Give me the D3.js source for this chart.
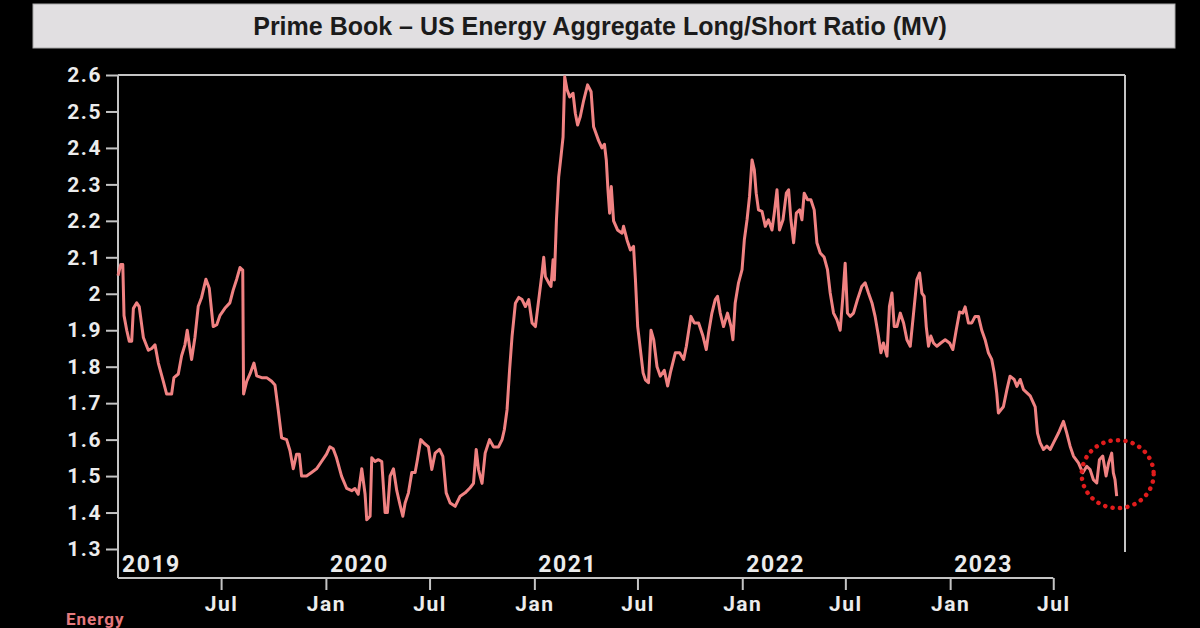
<!DOCTYPE html>
<html>
<head>
<meta charset="utf-8">
<script src="https://cdn.jsdelivr.net/npm/d3@7"></script>
<style>
  html, body { margin: 0; padding: 0; background: #000; overflow: hidden; }
</style>
</head>
<body>
<div id="chart"></div>
<script>
// Datos: [año decimal, ratio long/short]
const energySeries = [
  [2019.000, 2.05], [2019.013, 2.08], [2019.023, 2.08], [2019.029, 1.94], [2019.042, 1.90],
  [2019.054, 1.87], [2019.066, 1.87], [2019.074, 1.96], [2019.090, 1.975], [2019.102, 1.965],
  [2019.122, 1.88], [2019.146, 1.845], [2019.162, 1.85], [2019.178, 1.86], [2019.194, 1.81],
  [2019.218, 1.76], [2019.234, 1.725], [2019.258, 1.725], [2019.269, 1.77], [2019.290, 1.78],
  [2019.306, 1.83], [2019.322, 1.86], [2019.333, 1.90], [2019.343, 1.86], [2019.354, 1.82],
  [2019.370, 1.88], [2019.386, 1.966], [2019.402, 1.99], [2019.423, 2.04], [2019.439, 2.015],
  [2019.458, 1.91], [2019.475, 1.915], [2019.490, 1.94], [2019.514, 1.96], [2019.538, 1.975],
  [2019.554, 2.01], [2019.571, 2.04], [2019.587, 2.072], [2019.600, 2.065], [2019.604, 1.725],
  [2019.619, 1.76], [2019.635, 1.78], [2019.654, 1.81], [2019.667, 1.775], [2019.691, 1.77],
  [2019.715, 1.77], [2019.739, 1.76], [2019.755, 1.75], [2019.771, 1.68], [2019.787, 1.605],
  [2019.811, 1.60], [2019.827, 1.57], [2019.843, 1.52], [2019.859, 1.56], [2019.872, 1.56],
  [2019.883, 1.50], [2019.907, 1.50], [2019.931, 1.51], [2019.955, 1.52], [2019.979, 1.54],
  [2020.003, 1.56], [2020.019, 1.58], [2020.035, 1.575], [2020.051, 1.55], [2020.075, 1.50],
  [2020.100, 1.466], [2020.124, 1.46], [2020.139, 1.466], [2020.155, 1.45], [2020.172, 1.52],
  [2020.188, 1.45], [2020.196, 1.38], [2020.212, 1.39], [2020.220, 1.55], [2020.236, 1.54],
  [2020.251, 1.545], [2020.268, 1.54], [2020.284, 1.40], [2020.295, 1.40], [2020.308, 1.50],
  [2020.324, 1.52], [2020.340, 1.46], [2020.356, 1.42], [2020.369, 1.39], [2020.380, 1.426],
  [2020.396, 1.454], [2020.412, 1.51], [2020.428, 1.51], [2020.439, 1.545], [2020.455, 1.60],
  [2020.471, 1.59], [2020.492, 1.58], [2020.508, 1.518], [2020.524, 1.563], [2020.545, 1.573],
  [2020.561, 1.554], [2020.577, 1.454], [2020.596, 1.426], [2020.620, 1.417], [2020.644, 1.445],
  [2020.668, 1.454], [2020.692, 1.468], [2020.708, 1.48], [2020.721, 1.573], [2020.732, 1.518],
  [2020.749, 1.48], [2020.764, 1.563], [2020.785, 1.60], [2020.804, 1.58], [2020.828, 1.58],
  [2020.845, 1.60], [2020.856, 1.627], [2020.869, 1.682], [2020.881, 1.79], [2020.893, 1.883],
  [2020.909, 1.974], [2020.925, 1.99], [2020.941, 1.984], [2020.957, 1.965], [2020.973, 1.984],
  [2020.989, 1.92], [2021.005, 1.91], [2021.021, 1.984], [2021.037, 2.057], [2021.045, 2.10],
  [2021.053, 2.047], [2021.069, 2.03], [2021.080, 2.02], [2021.090, 2.093], [2021.096, 2.038],
  [2021.106, 2.20], [2021.117, 2.32], [2021.128, 2.376], [2021.138, 2.43], [2021.146, 2.595],
  [2021.157, 2.56], [2021.170, 2.54], [2021.186, 2.55], [2021.197, 2.495], [2021.208, 2.463],
  [2021.221, 2.486], [2021.237, 2.53], [2021.256, 2.573], [2021.273, 2.554], [2021.285, 2.458],
  [2021.309, 2.42], [2021.325, 2.40], [2021.337, 2.41], [2021.346, 2.367], [2021.354, 2.285],
  [2021.362, 2.221], [2021.370, 2.294], [2021.381, 2.20], [2021.400, 2.175], [2021.422, 2.166],
  [2021.429, 2.185], [2021.446, 2.147], [2021.462, 2.12], [2021.477, 2.13], [2021.486, 2.04],
  [2021.497, 1.91], [2021.510, 1.847], [2021.523, 1.783], [2021.534, 1.764], [2021.549, 1.756],
  [2021.561, 1.90], [2021.574, 1.874], [2021.590, 1.80], [2021.606, 1.774], [2021.625, 1.79],
  [2021.641, 1.747], [2021.654, 1.783], [2021.678, 1.838], [2021.699, 1.838], [2021.718, 1.82],
  [2021.731, 1.856], [2021.753, 1.938], [2021.769, 1.92], [2021.790, 1.92], [2021.811, 1.884],
  [2021.827, 1.847], [2021.838, 1.893], [2021.854, 1.947], [2021.870, 1.984], [2021.881, 1.993],
  [2021.894, 1.947], [2021.910, 1.91], [2021.929, 1.947], [2021.946, 1.91], [2021.955, 1.874],
  [2021.966, 1.975], [2021.982, 2.03], [2021.999, 2.066], [2022.010, 2.148], [2022.023, 2.203],
  [2022.035, 2.267], [2022.047, 2.367], [2022.058, 2.34], [2022.067, 2.276], [2022.078, 2.23],
  [2022.095, 2.226], [2022.111, 2.185], [2022.126, 2.203], [2022.143, 2.175], [2022.154, 2.221],
  [2022.167, 2.285], [2022.179, 2.175], [2022.196, 2.203], [2022.212, 2.276], [2022.223, 2.285],
  [2022.234, 2.203], [2022.247, 2.14], [2022.260, 2.221], [2022.276, 2.23], [2022.287, 2.203],
  [2022.298, 2.276], [2022.314, 2.258], [2022.330, 2.258], [2022.346, 2.23], [2022.359, 2.14],
  [2022.375, 2.112], [2022.394, 2.10], [2022.410, 2.066], [2022.423, 2.002], [2022.439, 1.947],
  [2022.455, 1.929], [2022.471, 1.90], [2022.484, 1.993], [2022.495, 2.084], [2022.506, 1.947],
  [2022.519, 1.938], [2022.535, 1.947], [2022.554, 1.984], [2022.575, 2.02], [2022.591, 2.03],
  [2022.607, 2.002], [2022.624, 1.975], [2022.639, 1.938], [2022.655, 1.884], [2022.667, 1.838],
  [2022.679, 1.865], [2022.696, 1.829], [2022.708, 1.966], [2022.720, 2.002], [2022.731, 1.91],
  [2022.744, 1.91], [2022.760, 1.947], [2022.776, 1.92], [2022.792, 1.874], [2022.808, 1.856],
  [2022.824, 1.947], [2022.840, 2.039], [2022.853, 2.057], [2022.864, 2.002], [2022.875, 1.993],
  [2022.885, 1.91], [2022.896, 1.856], [2022.907, 1.884], [2022.920, 1.865], [2022.936, 1.856],
  [2022.955, 1.865], [2022.976, 1.874], [2022.997, 1.865], [2023.013, 1.847], [2023.029, 1.90],
  [2023.045, 1.95], [2023.061, 1.947], [2023.072, 1.964], [2023.088, 1.92], [2023.104, 1.92],
  [2023.120, 1.938], [2023.136, 1.938], [2023.152, 1.90], [2023.168, 1.874], [2023.184, 1.838],
  [2023.200, 1.82], [2023.212, 1.783], [2023.224, 1.728], [2023.232, 1.673], [2023.256, 1.69],
  [2023.273, 1.737], [2023.288, 1.774], [2023.308, 1.765], [2023.321, 1.746], [2023.337, 1.765],
  [2023.353, 1.737], [2023.385, 1.72], [2023.409, 1.69], [2023.420, 1.618], [2023.433, 1.591],
  [2023.449, 1.573], [2023.465, 1.582], [2023.481, 1.573], [2023.497, 1.591], [2023.521, 1.618],
  [2023.545, 1.65], [2023.561, 1.618], [2023.577, 1.582], [2023.593, 1.555], [2023.617, 1.536],
  [2023.638, 1.509], [2023.657, 1.527], [2023.673, 1.518], [2023.689, 1.49], [2023.705, 1.481],
  [2023.718, 1.545], [2023.734, 1.555], [2023.750, 1.50], [2023.762, 1.536], [2023.777, 1.563],
  [2023.785, 1.509], [2023.793, 1.49], [2023.801, 1.445]
];

// Marcas del eje Y
const yTicks = [1.3, 1.4, 1.5, 1.6, 1.7, 1.8, 1.9, 2.0, 2.1, 2.2, 2.3, 2.4, 2.5, 2.6];
const yTickLabels = ["1.3", "1.4", "1.5", "1.6", "1.7", "1.8", "1.9", "2", "2.1", "2.2", "2.3", "2.4", "2.5", "2.6"];

// Marcas del eje X (meses) y etiquetas de año
const monthTicks = ["2019-07-01", "2020-01-01", "2020-07-01", "2021-01-01", "2021-07-01",
                    "2022-01-01", "2022-07-01", "2023-01-01", "2023-07-01"];
const monthLabels = ["Jul", "Jan", "Jul", "Jan", "Jul", "Jan", "Jul", "Jan", "Jul"];
const yearLabels = ["2019", "2020", "2021", "2022", "2023"];

const chartTitle = "Prime Book \u2013 US Energy Aggregate Long/Short Ratio (MV)";
const seriesName = "Energy";

const width = 1200;
const height = 628;
const plotLeft = 118, plotRight = 1125, plotTop = 75, axisY = 578;

// Convertir año decimal a fecha
const yearToDate = t => {
  const yr = Math.floor(t);
  const a = new Date(yr, 0, 1), b = new Date(yr + 1, 0, 1);
  return new Date(+a + (t - yr) * (b - a));
};
const parseDay = d3.timeParse("%Y-%m-%d");

const svg = d3.select("#chart")
              .append("svg")
              .attr("width", width)
              .attr("height", height)
              .style("background", "#000");

const x = d3.scaleTime()
            .domain([yearToDate(2019), yearToDate(2023.841)])
            .range([plotLeft, plotRight]);

const y = d3.scaleLinear()
            .domain([1.3, 2.6])
            .range([549, plotTop]);

// Barra del titulo
svg.append("rect")
   .attr("x", 33).attr("y", 4)
   .attr("width", 1142).attr("height", 44)
   .attr("fill", "#e1dfe1")
   .attr("stroke", "#a8a8a8")
   .attr("stroke-width", 1);

svg.append("text")
   .attr("x", 600).attr("y", 35)
   .attr("text-anchor", "middle")
   .attr("font-family", "'Liberation Sans', Arial, sans-serif")
   .attr("font-weight", "bold")
   .attr("font-size", 25)
   .attr("fill", "#1b1b1b")
   .text(chartTitle);

// Marco del grafico
const frameColor = "#c4c4c4";
const frame = svg.append("g")
                 .attr("stroke", frameColor)
                 .attr("stroke-width", 2);
frame.append("line").attr("x1", plotLeft).attr("x2", plotRight).attr("y1", plotTop).attr("y2", plotTop);
frame.append("line").attr("x1", plotLeft).attr("x2", plotLeft).attr("y1", plotTop).attr("y2", axisY);
frame.append("line").attr("x1", plotRight).attr("x2", plotRight).attr("y1", plotTop).attr("y2", 552);
frame.append("line").attr("x1", plotLeft).attr("x2", x(parseDay(monthTicks[monthTicks.length - 1])))
     .attr("y1", axisY).attr("y2", axisY);

const axisFont = "Roboto, 'DejaVu Sans', sans-serif";

// Eje Y
const yAxis = svg.append("g")
   .attr("transform", `translate(${plotLeft},0)`)
   .call(d3.axisLeft(y)
           .tickValues(yTicks)
           .tickFormat((d, i) => yTickLabels[i])
           .tickSize(12)
           .tickPadding(4));
yAxis.select(".domain").remove();
yAxis.selectAll("line").attr("stroke", frameColor).attr("stroke-width", 2);
yAxis.selectAll("text")
     .attr("fill", "#ececec")
     .attr("font-family", axisFont)
     .attr("font-weight", "bold")
     .attr("font-size", 21)
     .attr("letter-spacing", 1.5);

// Eje X
const xAxis = svg.append("g")
   .attr("transform", `translate(0,${axisY})`)
   .call(d3.axisBottom(x)
           .tickValues(monthTicks.map(parseDay))
           .tickFormat((d, i) => monthLabels[i])
           .tickSize(12)
           .tickPadding(6));
xAxis.select(".domain").remove();
xAxis.selectAll("line").attr("stroke", frameColor).attr("stroke-width", 2);
xAxis.selectAll("text")
     .attr("fill", "#ececec")
     .attr("font-family", axisFont)
     .attr("font-weight", "bold")
     .attr("font-size", 21)
     .attr("letter-spacing", 1.5);

// Etiquetas de año dentro del grafico
svg.append("g")
   .selectAll("text")
   .data(yearLabels)
   .enter()
   .append("text")
   .attr("x", d => x(new Date(+d, 0, 1)) + 4)
   .attr("y", 572)
   .attr("fill", "#ececec")
   .attr("font-family", axisFont)
   .attr("font-weight", "bold")
   .attr("font-size", 23)
   .attr("letter-spacing", 1.5)
   .text(d => d);

// Serie
const line = d3.line()
               .x(d => x(yearToDate(d[0])))
               .y(d => y(d[1]));

svg.append("path")
   .datum(energySeries)
   .attr("d", line)
   .attr("fill", "none")
   .attr("stroke", "#f08282")
   .attr("stroke-width", 3)
   .attr("stroke-linejoin", "round");

// Circulo punteado sobre el ultimo tramo
const last = energySeries[energySeries.length - 1];
svg.append("ellipse")
   .attr("cx", x(yearToDate(last[0])) + 1)
   .attr("cy", y(last[1]) - 22)
   .attr("rx", 36)
   .attr("ry", 34)
   .attr("fill", "none")
   .attr("stroke", "#e01c1c")
   .attr("stroke-width", 4.5)
   .attr("stroke-linecap", "round")
   .attr("stroke-dasharray", "0.1 7.4");

// Leyenda al pie
svg.append("text")
   .attr("x", 66).attr("y", 625)
   .attr("fill", "#e57a7e")
   .attr("font-family", axisFont)
   .attr("font-weight", "bold")
   .attr("font-size", 17)
   .attr("letter-spacing", 1)
   .text(seriesName);
</script>
</body>
</html>
